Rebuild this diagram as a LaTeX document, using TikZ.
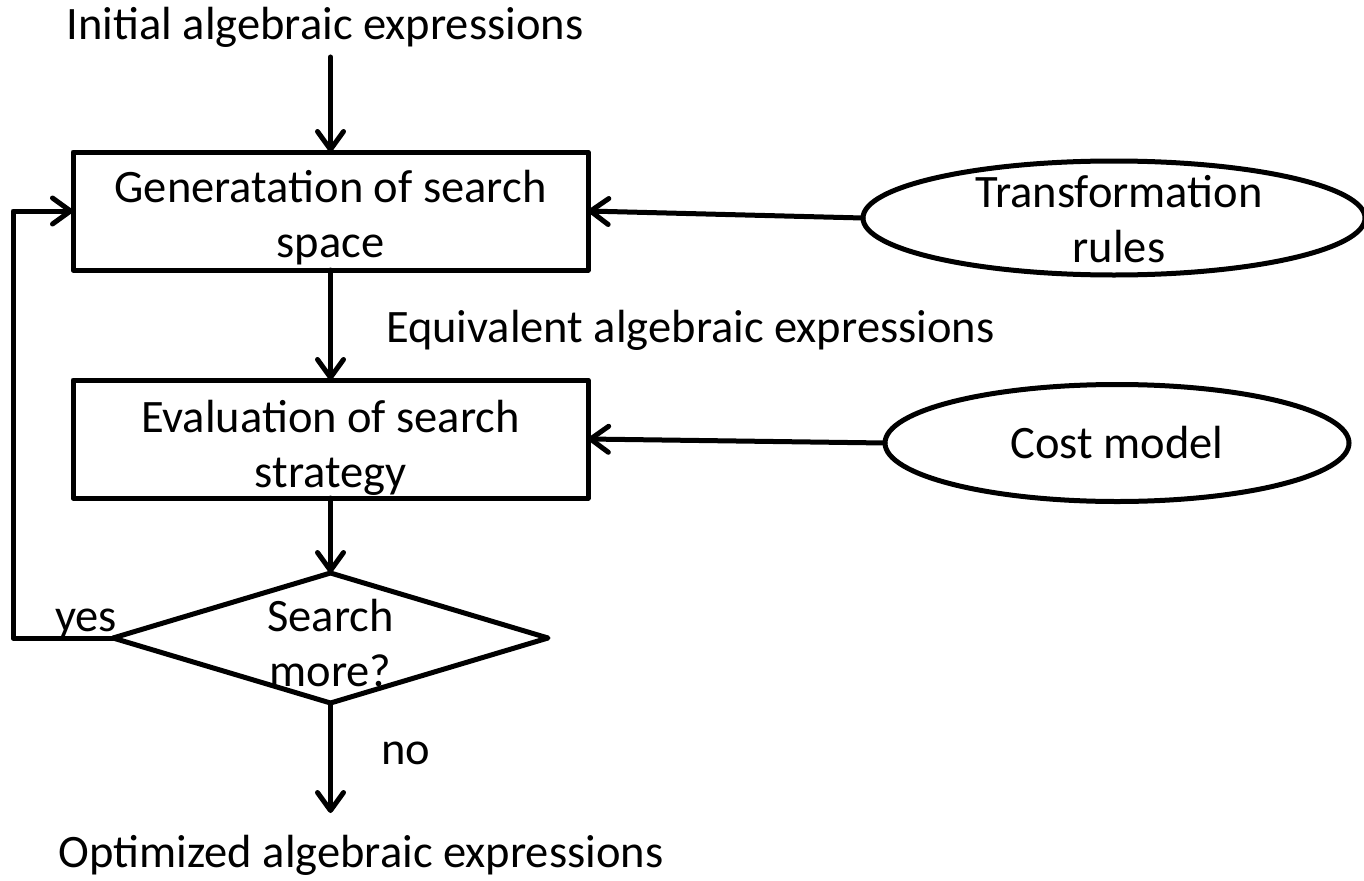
\documentclass[tikz,border=0pt]{standalone}
\usepackage{fontspec}
\setmainfont{Carlito}
\usetikzlibrary{arrows.meta,shapes.geometric}
\begin{document}
\begin{tikzpicture}[x=1pt,y=-1pt,
  every node/.style={font=\fontsize{46.5}{55}\selectfont, inner sep=0pt, outer sep=0pt},
  flow/.style={line width=5pt, line join=round, line cap=round,
    -{Straight Barb[length=18pt,width=26pt,line join=round,line cap=round]}},
  stepbox/.style={draw, line width=5pt, line join=round, minimum width=515pt,
    minimum height=118pt},
  oval/.style={draw, ellipse, line width=5pt},
  txt/.style={align=center},
  lbl/.style={anchor=base}
]
\useasboundingbox (0,0) rectangle (1364,880);

% input and output texts
\node[lbl] (init) at (325,40) {Initial algebraic expressions};
\node[lbl] (opt) at (361,867) {Optimized algebraic expressions};
\coordinate (outend) at (330.5,813);

% process boxes
\node[stepbox] (gen) at (330.5,211) {};
\node[txt] (gentext) at (330.5,218) {Generatation of search\\space};
\node[stepbox] (eval) at (330.5,439) {};
\node[txt] (evaltext) at (330.5,448) {Evaluation of search\\strategy};

% decision
\node[draw, diamond, line width=5pt, line join=round, minimum width=435pt,
      minimum height=130pt] (dec) at (330.5,638) {};
\node[txt] (dectext) at (330.5,643) {Search\\more?};

% side inputs
\node[oval, minimum width=502pt, minimum height=114pt] (rules) at (1114,218) {};
\node[txt] (rulestext) at (1119,219) {Transformation\\rules};
\node[oval, minimum width=464pt, minimum height=117pt] (cost) at (1117,443) {};
\node[lbl] (costtext) at (1117,458) {Cost model};

% edge labels
\node[lbl, anchor=base west] (equiv) at (386,342) {Equivalent algebraic expressions};
\node[lbl] (yes) at (86,631) {yes};
\node[lbl] (no) at (406,764) {no};

% connectors
\draw[flow, shorten <=9pt] (init.south -| gen.north) -- (gen.north);
\draw[flow] (gen.south) -- (eval.north);
\draw[flow] (eval.south) -- (dec.north);
\draw[flow] (rules.west) -- (gen.east);
\draw[flow] (cost.west) -- (eval.east);
\coordinate (loopcorner) at (13,638);
\draw[flow] (dec.west) -- (loopcorner) |- (gen.west);
\draw[flow] (dec.south) -- (outend);
\end{tikzpicture}
\end{document}
